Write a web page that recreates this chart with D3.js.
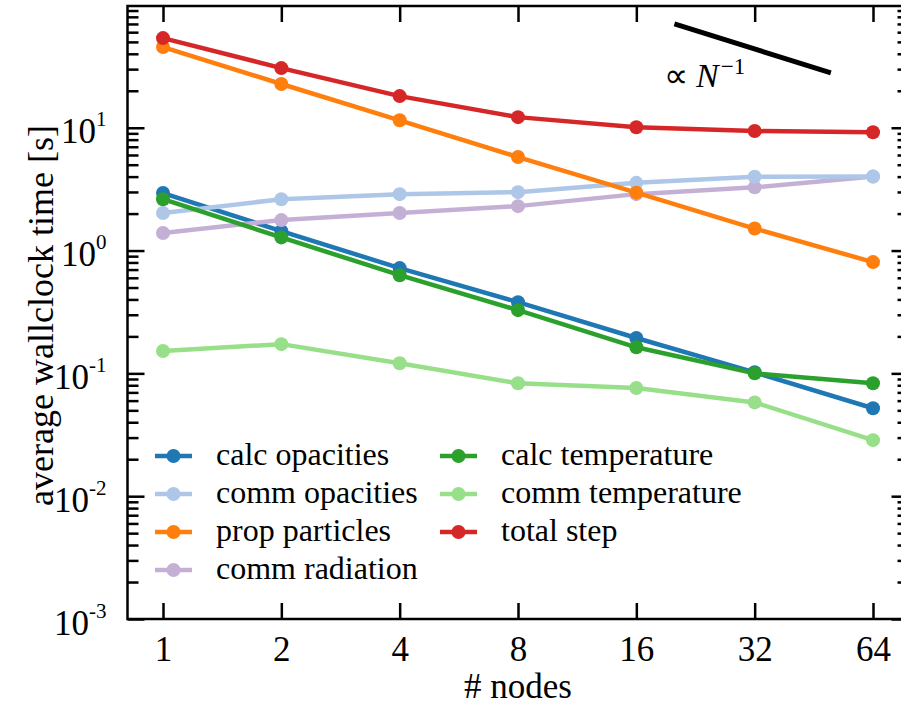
<!DOCTYPE html>
<html><head><meta charset="utf-8">
<script src="https://cdn.jsdelivr.net/npm/d3@7"></script>
<style>
body{margin:0;background:#fff}
svg{display:block}
</style>
</head><body>
<svg id="c" width="901" height="706" font-family="'Liberation Serif', 'Times New Roman', serif"></svg>
<script>
// ---------- data ----------
const nodes = [1, 2, 4, 8, 16, 32, 64];
const calcOpacities   = [2.94, 1.44, 0.72, 0.38, 0.194, 0.102, 0.052];
const commOpacities   = [2.02, 2.62, 2.88, 2.99, 3.56, 3.99, 4.0];
const propParticles   = [45.4, 22.7, 11.5, 5.77, 2.96, 1.51, 0.805];
const commRadiation   = [1.39, 1.77, 2.02, 2.30, 2.88, 3.27, 4.0];
const calcTemperature = [2.62, 1.28, 0.63, 0.327, 0.163, 0.100, 0.083];
const commTemperature = [0.152, 0.173, 0.121, 0.083, 0.076, 0.058, 0.0286];
const totalStep       = [53.7, 30.6, 18.1, 12.2, 10.1, 9.4, 9.2];

const seriesNames  = ["calc opacities","comm opacities","prop particles","comm radiation",
                      "calc temperature","comm temperature","total step"];
const seriesValues = [calcOpacities, commOpacities, propParticles, commRadiation,
                      calcTemperature, commTemperature, totalStep];
const seriesColors = ["#1f77b4","#aec7e8","#ff7f0e","#c5b0d5","#2ca02c","#98df8a","#d62728"];
const drawOrder    = [0, 3, 1, 2, 4, 5, 6];

const xTickLabels = ["1","2","4","8","16","32","64"];
const yTicks      = [1e-3, 1e-2, 1e-1, 1, 10];
const yTickExp    = ["-3","-2","-1","0","1"];
const refLineX    = [20, 50];
const refLineY    = [70, 28];

// ---------- layout ----------
const FONT = "'Liberation Serif', 'Times New Roman', Times, serif";
const L = 127.5, R = 908.5, T = 6, B = 619;
const svg = d3.select("#c");

const x = d3.scaleLog().base(2).domain([Math.pow(2,-0.3), Math.pow(2,6.3)]).range([L, R]);
const y = d3.scaleLog().base(10).domain([1e-3, 98]).range([B, T]);

const minorY = [];
for (let e = -3; e <= 1; e++) for (let m = 2; m <= 9; m++) {
  const v = m * Math.pow(10, e);
  if (v < 98) minorY.push(v);
}

const axisStroke = 2.5;
function styleAxis(g){
  g.attr("font-family", FONT);
  g.select(".domain").remove();
  g.selectAll(".tick line").attr("stroke","#000").attr("stroke-width",axisStroke);
}

// minor y ticks (left & right)
svg.append("g").attr("transform",`translate(${L},0)`)
  .call(d3.axisLeft(y).tickValues(minorY).tickFormat("").tickSizeInner(-11).tickSizeOuter(0))
  .call(styleAxis);
svg.append("g").attr("transform",`translate(${R},0)`)
  .call(d3.axisRight(y).tickValues(minorY).tickFormat("").tickSizeInner(-11).tickSizeOuter(0))
  .call(styleAxis);

// major y ticks
const yl = svg.append("g").attr("transform",`translate(${L},0)`)
  .call(d3.axisLeft(y).tickValues(yTicks).tickSizeInner(-17).tickSizeOuter(0).tickPadding(21))
  .call(styleAxis);
yl.selectAll(".tick text").each(function(d,i){
  const t = d3.select(this);
  t.text(null).attr("x",-21).attr("dy",null).attr("y",15)
   .attr("text-anchor","end").attr("font-size",35).attr("font-family",FONT).attr("fill","#000");
  t.append("tspan").text("10");
  t.append("tspan").attr("dy",-17).attr("font-size",21).text(yTickExp[i]);
});
svg.append("g").attr("transform",`translate(${R},0)`)
  .call(d3.axisRight(y).tickValues(yTicks).tickFormat("").tickSizeInner(-17).tickSizeOuter(0))
  .call(styleAxis);

// x ticks
const xb = svg.append("g").attr("transform",`translate(0,${B})`)
  .call(d3.axisBottom(x).tickValues(nodes).tickFormat((d,i)=>xTickLabels[i]).tickSizeInner(-16).tickSizeOuter(0))
  .call(styleAxis);
xb.selectAll(".tick text").attr("y",42).attr("dy",null).attr("font-size",35)
  .attr("font-family",FONT).attr("fill","#000");
svg.append("g").attr("transform",`translate(0,${T})`)
  .call(d3.axisTop(x).tickValues(nodes).tickFormat("").tickSizeInner(-16).tickSizeOuter(0))
  .call(styleAxis);

// frame
svg.append("rect").attr("x",L).attr("y",T).attr("width",R-L).attr("height",B-T)
  .attr("fill","none").attr("stroke","#000").attr("stroke-width",axisStroke);

// axis labels
svg.append("text").attr("x",(L+R)/2).attr("y",698).attr("text-anchor","middle")
  .attr("font-family",FONT).attr("font-size",35).text("# nodes");
svg.append("text").attr("transform",`translate(53,${(T+B)/2+3}) rotate(-90)`)
  .attr("text-anchor","middle").attr("font-family",FONT).attr("font-size",36)
  .text("average wallclock time [s]");

// series
const line = d3.line().x((d,i)=>x(nodes[i])).y(d=>y(d));
const plot = svg.append("g");
drawOrder.forEach(k=>{
  const g = plot.append("g");
  g.append("path").datum(seriesValues[k]).attr("d",line)
    .attr("fill","none").attr("stroke",seriesColors[k]).attr("stroke-width",4.5)
    .attr("stroke-linejoin","round");
  g.selectAll("circle").data(seriesValues[k]).join("circle")
    .attr("cx",(d,i)=>x(nodes[i])).attr("cy",d=>y(d)).attr("r",7).attr("fill",seriesColors[k]);
});

// reference slope line
svg.append("line")
  .attr("x1",x(refLineX[0])).attr("y1",y(refLineY[0]))
  .attr("x2",x(refLineX[1])).attr("y2",y(refLineY[1]))
  .attr("stroke","#000").attr("stroke-width",5);
const ann = svg.append("text").attr("x",664).attr("y",87).attr("font-size",34).attr("font-family",FONT);
ann.append("tspan").text("\u221D");
ann.append("tspan").attr("dx",8).attr("font-style","italic").text("N");
ann.append("tspan").attr("dx",2).attr("dy",-13).attr("font-size",23).text("\u22121");

// legend
const legCols = [{lx:155, tx:216, items:[0,1,2,3]}, {lx:440, tx:501, items:[4,5,6]}];
const rowY = [456, 494, 532, 570];
legCols.forEach(c=>{
  c.items.forEach((k,r)=>{
    const g = svg.append("g");
    g.append("line").attr("x1",c.lx).attr("x2",c.lx+37).attr("y1",rowY[r]).attr("y2",rowY[r])
      .attr("stroke",seriesColors[k]).attr("stroke-width",4.5);
    g.append("circle").attr("cx",c.lx+18.5).attr("cy",rowY[r]).attr("r",7).attr("fill",seriesColors[k]);
    g.append("text").attr("x",c.tx).attr("y",rowY[r]+9).attr("font-family",FONT)
      .attr("font-size",32).text(seriesNames[k]);
  });
});
</script>
</body></html>
